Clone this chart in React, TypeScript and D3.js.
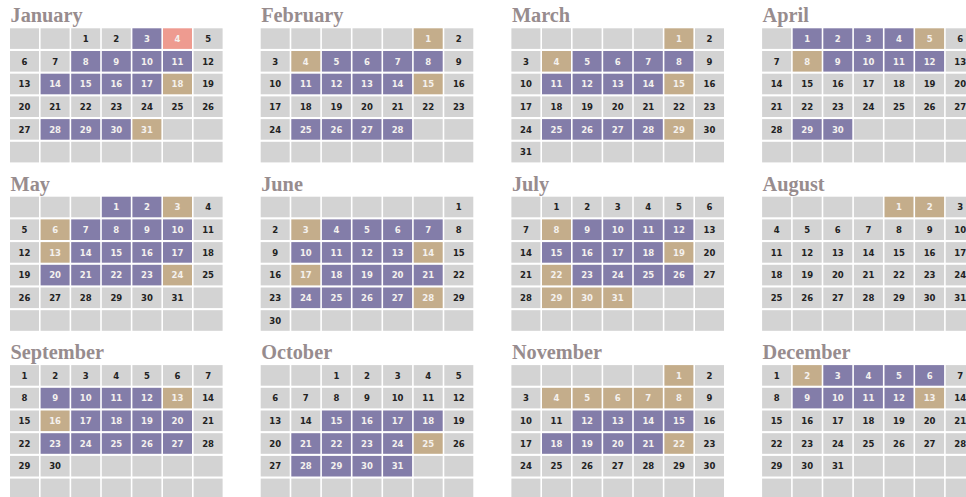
import React, { useEffect, useRef } from "react";
import * as d3 from "d3";

const YEAR = 2019;
const monthNames = ["January", "February", "March", "April", "May", "June", "July", "August", "September", "October", "November", "December"];
const purpleDays: number[][] = [
  [3, 8, 9, 10, 11, 14, 15, 16, 17, 28, 29, 30],
  [5, 6, 7, 8, 11, 12, 13, 14, 25, 26, 27, 28],
  [5, 6, 7, 8, 11, 12, 13, 14, 25, 26, 27, 28],
  [1, 2, 3, 4, 9, 10, 11, 12, 29, 30],
  [1, 2, 7, 8, 9, 10, 14, 15, 16, 17, 20, 21, 22, 23],
  [4, 5, 6, 7, 10, 11, 12, 13, 18, 19, 20, 21, 24, 25, 26, 27],
  [9, 10, 11, 12, 15, 16, 17, 18, 23, 24, 25, 26],
  [],
  [9, 10, 11, 12, 17, 18, 19, 20, 23, 24, 25, 26, 27],
  [15, 16, 17, 18, 21, 22, 23, 24, 28, 29, 30, 31],
  [12, 13, 14, 15, 18, 19, 20, 21],
  [3, 4, 5, 6, 9, 10, 11, 12],
];
const tanDays: number[][] = [
  [18, 31],
  [1, 4, 15],
  [1, 4, 15, 29],
  [5, 8],
  [3, 6, 13, 24],
  [3, 14, 17, 28],
  [8, 19, 22, 29, 30, 31],
  [1, 2],
  [13, 16],
  [25],
  [1, 4, 5, 6, 7, 8, 22],
  [2, 13],
];
const redDays: number[][] = [[4], [], [], [], [], [], [], [], [], [], [], []];

const COLORS = { empty: "#d3d3d3", purple: "#837da9", tan: "#c4ad8b", red: "#ee9b90", title: "#978c8e" };

export default function App() {
  const ref = useRef<SVGSVGElement>(null);
  useEffect(() => {
    const svg = d3.select(ref.current);
    svg.selectAll("*").remove();
    const monthX = d3.scaleLinear().domain([0, 1]).range([10, 260.7]);
    const monthY = d3.scaleLinear().domain([0, 1]).range([28.3, 196.7]);
    const colX = d3.scaleLinear().domain([0, 1]).range([0, 30.6]);
    const rowY = d3.scaleLinear().domain([0, 1]).range([0, 22.7]);
    const cw = 29, ch = 20.6;

    monthNames.forEach((name, m) => {
      const g = svg.append("g").attr("transform", `translate(${monthX(m % 4)},${monthY(Math.floor(m / 4))})`);
      g.append("text")
        .attr("x", 0.5)
        .attr("y", -6)
        .attr("font-family", "'Liberation Serif', serif")
        .attr("font-weight", "bold")
        .attr("font-size", 20.3)
        .attr("fill", COLORS.title)
        .text(name);
      const first = new Date(YEAR, m, 1);
      const days = d3.timeDays(first, new Date(YEAR, m + 1, 1));
      const offset = first.getDay();
      const cells = d3.range(42).map((i) => {
        const d = i - offset + 1;
        const has = d >= 1 && d <= days.length;
        let color = COLORS.empty;
        if (has) {
          if (redDays[m].includes(d)) color = COLORS.red;
          else if (purpleDays[m].includes(d)) color = COLORS.purple;
          else if (tanDays[m].includes(d)) color = COLORS.tan;
        }
        return { i, d: has ? d : null, color };
      });
      const cg = g.selectAll("g.cell").data(cells).enter().append("g")
        .attr("transform", (c) => `translate(${colX(c.i % 7)},${rowY(Math.floor(c.i / 7))})`);
      cg.append("rect").attr("width", cw).attr("height", ch).attr("fill", (c) => c.color);
      cg.filter((c) => c.d !== null).append("text")
        .attr("x", cw / 2)
        .attr("y", ch / 2 + 3.3)
        .attr("text-anchor", "middle")
        .attr("font-family", "'DejaVu Sans', sans-serif")
        .attr("font-weight", "bold")
        .attr("font-size", 8.5)
        .attr("fill", (c) => (c.color === COLORS.empty ? "#222" : "#f4f1ee"))
        .text((c) => String(c.d));
    });
  }, []);
  return (
    <svg ref={ref} width={966} height={497} style={{ position: "absolute", left: 0, top: 0, background: "#fff" }} />
  );
}
